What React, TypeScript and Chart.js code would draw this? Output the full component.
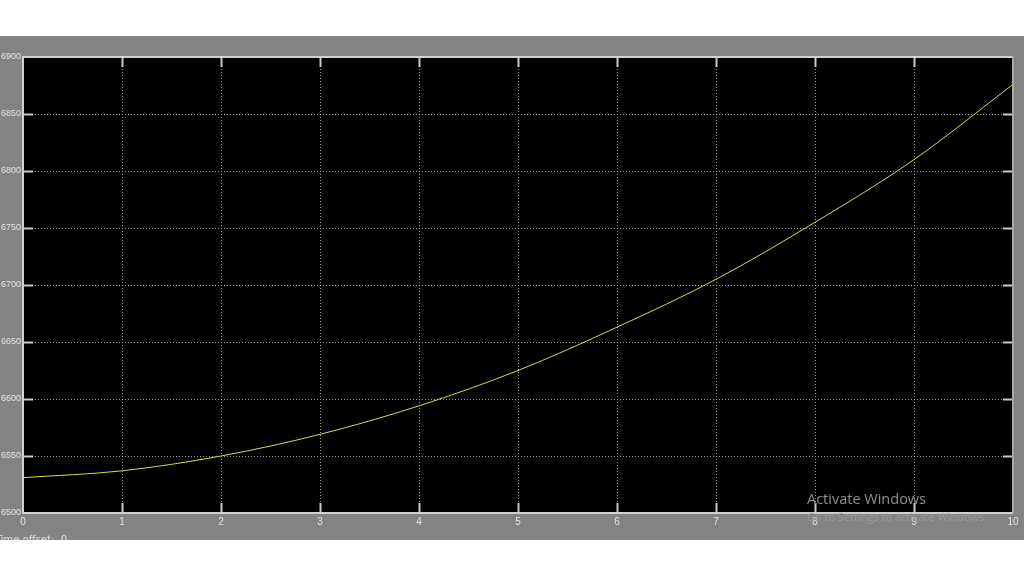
import React, { useEffect, useRef } from "react";
import { Chart, registerables } from "chart.js";

Chart.register(...registerables);

const timeValues = [0, 1, 2, 3, 4, 5, 6, 7, 8, 9, 10];
const signalValues = [6531, 6537, 6550, 6569, 6594, 6625, 6663, 6705, 6755, 6810, 6876];
const xTicks = [0, 1, 2, 3, 4, 5, 6, 7, 8, 9, 10];
const yTicks = [6500, 6550, 6600, 6650, 6700, 6750, 6800, 6850, 6900];

const tickFont = "'Liberation Sans', Arial, sans-serif";

const scopePlugin = {
  id: "scope",
  beforeDraw(chart: any) {
    const { ctx, chartArea } = chart;
    ctx.save();
    ctx.fillStyle = "#000000";
    ctx.fillRect(chartArea.left, chartArea.top, chartArea.right - chartArea.left, chartArea.bottom - chartArea.top);
    ctx.restore();
  },
  beforeDatasetsDraw(chart: any) {
    const { ctx, chartArea, scales } = chart;
    const { left, right, top, bottom } = chartArea;
    ctx.save();
    ctx.strokeStyle = "#9a9a9a";
    ctx.lineWidth = 1;
    ctx.setLineDash([1, 2]);
    xTicks.forEach((v) => {
      const px = Math.round(scales.x.getPixelForValue(v)) + 0.5;
      if (px <= left + 1 || px >= right - 1) return;
      ctx.beginPath();
      ctx.moveTo(px, top);
      ctx.lineTo(px, bottom);
      ctx.stroke();
    });
    yTicks.forEach((v) => {
      const py = Math.round(scales.y.getPixelForValue(v)) + 0.5;
      if (py <= top + 1 || py >= bottom - 1) return;
      ctx.beginPath();
      ctx.moveTo(left, py);
      ctx.lineTo(right, py);
      ctx.stroke();
    });
    ctx.restore();
  },
  afterDatasetsDraw(chart: any) {
    const { ctx, chartArea, scales } = chart;
    const { left, right, top, bottom } = chartArea;
    ctx.save();
    ctx.setLineDash([]);
    ctx.lineWidth = 2;
    ctx.strokeStyle = "#c8c8c8";
    xTicks.forEach((v) => {
      const px = Math.round(scales.x.getPixelForValue(v)) + 0.5;
      if (px <= left + 1 || px >= right - 1) return;
      ctx.beginPath();
      ctx.moveTo(px, top);
      ctx.lineTo(px, top + 10);
      ctx.moveTo(px, bottom);
      ctx.lineTo(px, bottom - 10);
      ctx.stroke();
    });
    yTicks.forEach((v) => {
      const py = Math.round(scales.y.getPixelForValue(v)) + 0.5;
      if (py <= top + 1 || py >= bottom - 1) return;
      ctx.beginPath();
      ctx.moveTo(left, py);
      ctx.lineTo(left + 10, py);
      ctx.moveTo(right, py);
      ctx.lineTo(right - 10, py);
      ctx.stroke();
    });
    ctx.lineWidth = 2;
    ctx.strokeStyle = "#d0d0d0";
    ctx.beginPath();
    ctx.moveTo(right, top);
    ctx.lineTo(left, top);
    ctx.lineTo(left, bottom);
    ctx.lineTo(right, bottom);
    ctx.stroke();
    ctx.strokeStyle = "#a8a8a8";
    ctx.beginPath();
    ctx.moveTo(right, top);
    ctx.lineTo(right, bottom);
    ctx.stroke();
    ctx.restore();
  },
};

export default function App() {
  const canvasRef = useRef<HTMLCanvasElement | null>(null);

  useEffect(() => {
    if (!canvasRef.current) return;
    const chart = new Chart(canvasRef.current, {
      type: "line",
      data: {
        datasets: [
          {
            data: timeValues.map((t, i) => ({ x: t, y: signalValues[i] })),
            borderColor: "#d8d850",
            borderWidth: 1,
            pointRadius: 0,
            cubicInterpolationMode: "monotone",
            fill: false,
          },
        ],
      },
      options: {
        animation: false,
        responsive: false,
        devicePixelRatio: 1,
        layout: { padding: { top: 21, right: 11, left: 0, bottom: 0 } },
        plugins: { legend: { display: false }, tooltip: { enabled: false } },
        scales: {
          x: {
            type: "linear",
            min: 0,
            max: 10,
            afterBuildTicks: (s: any) => {
              s.ticks = xTicks.map((v) => ({ value: v }));
            },
            afterFit: (s: any) => {
              s.height = 27;
            },
            grid: { display: false, drawTicks: false },
            border: { display: false },
            ticks: {
              color: "#e4e4e4",
              font: { family: tickFont, size: 10 },
              padding: 3,
              maxRotation: 0,
            },
          },
          y: {
            type: "linear",
            min: 6500,
            max: 6900,
            afterBuildTicks: (s: any) => {
              s.ticks = yTicks.map((v) => ({ value: v }));
            },
            afterFit: (s: any) => {
              s.width = 23;
            },
            grid: { display: false, drawTicks: false },
            border: { display: false },
            ticks: {
              color: "#e4e4e4",
              font: { family: tickFont, size: 9 },
              padding: 2,
              callback: (v: any) => String(v),
            },
          },
        },
      },
      plugins: [scopePlugin],
    } as any);
    return () => chart.destroy();
  }, []);

  return (
    <div style={{ position: "fixed", left: 0, top: 0, width: 1024, height: 576, background: "#ffffff", overflow: "hidden" }}>
      <div style={{ position: "absolute", left: 0, top: 36, width: 1024, height: 504, background: "#838383", overflow: "hidden" }}>
        <canvas ref={canvasRef} width={1024} height={504} style={{ display: "block", width: 1024, height: 504 }} />
        <div style={{ position: "absolute", left: -5, top: 498, fontFamily: "DejaVu Sans", fontSize: 10, color: "#e0e0e0", whiteSpace: "pre" }}>
          Time offset:  0
        </div>
        <div style={{ position: "absolute", left: 807, top: 453, fontFamily: "Open Sans", fontSize: 14.5, color: "#8e8e8e", whiteSpace: "nowrap" }}>
          Activate Windows
        </div>
        <div style={{ position: "absolute", left: 807, top: 473, fontFamily: "Open Sans", fontSize: 11, color: "#9a9a9a", whiteSpace: "nowrap" }}>
          Go to Settings to activate Windows.
        </div>
      </div>
    </div>
  );
}
